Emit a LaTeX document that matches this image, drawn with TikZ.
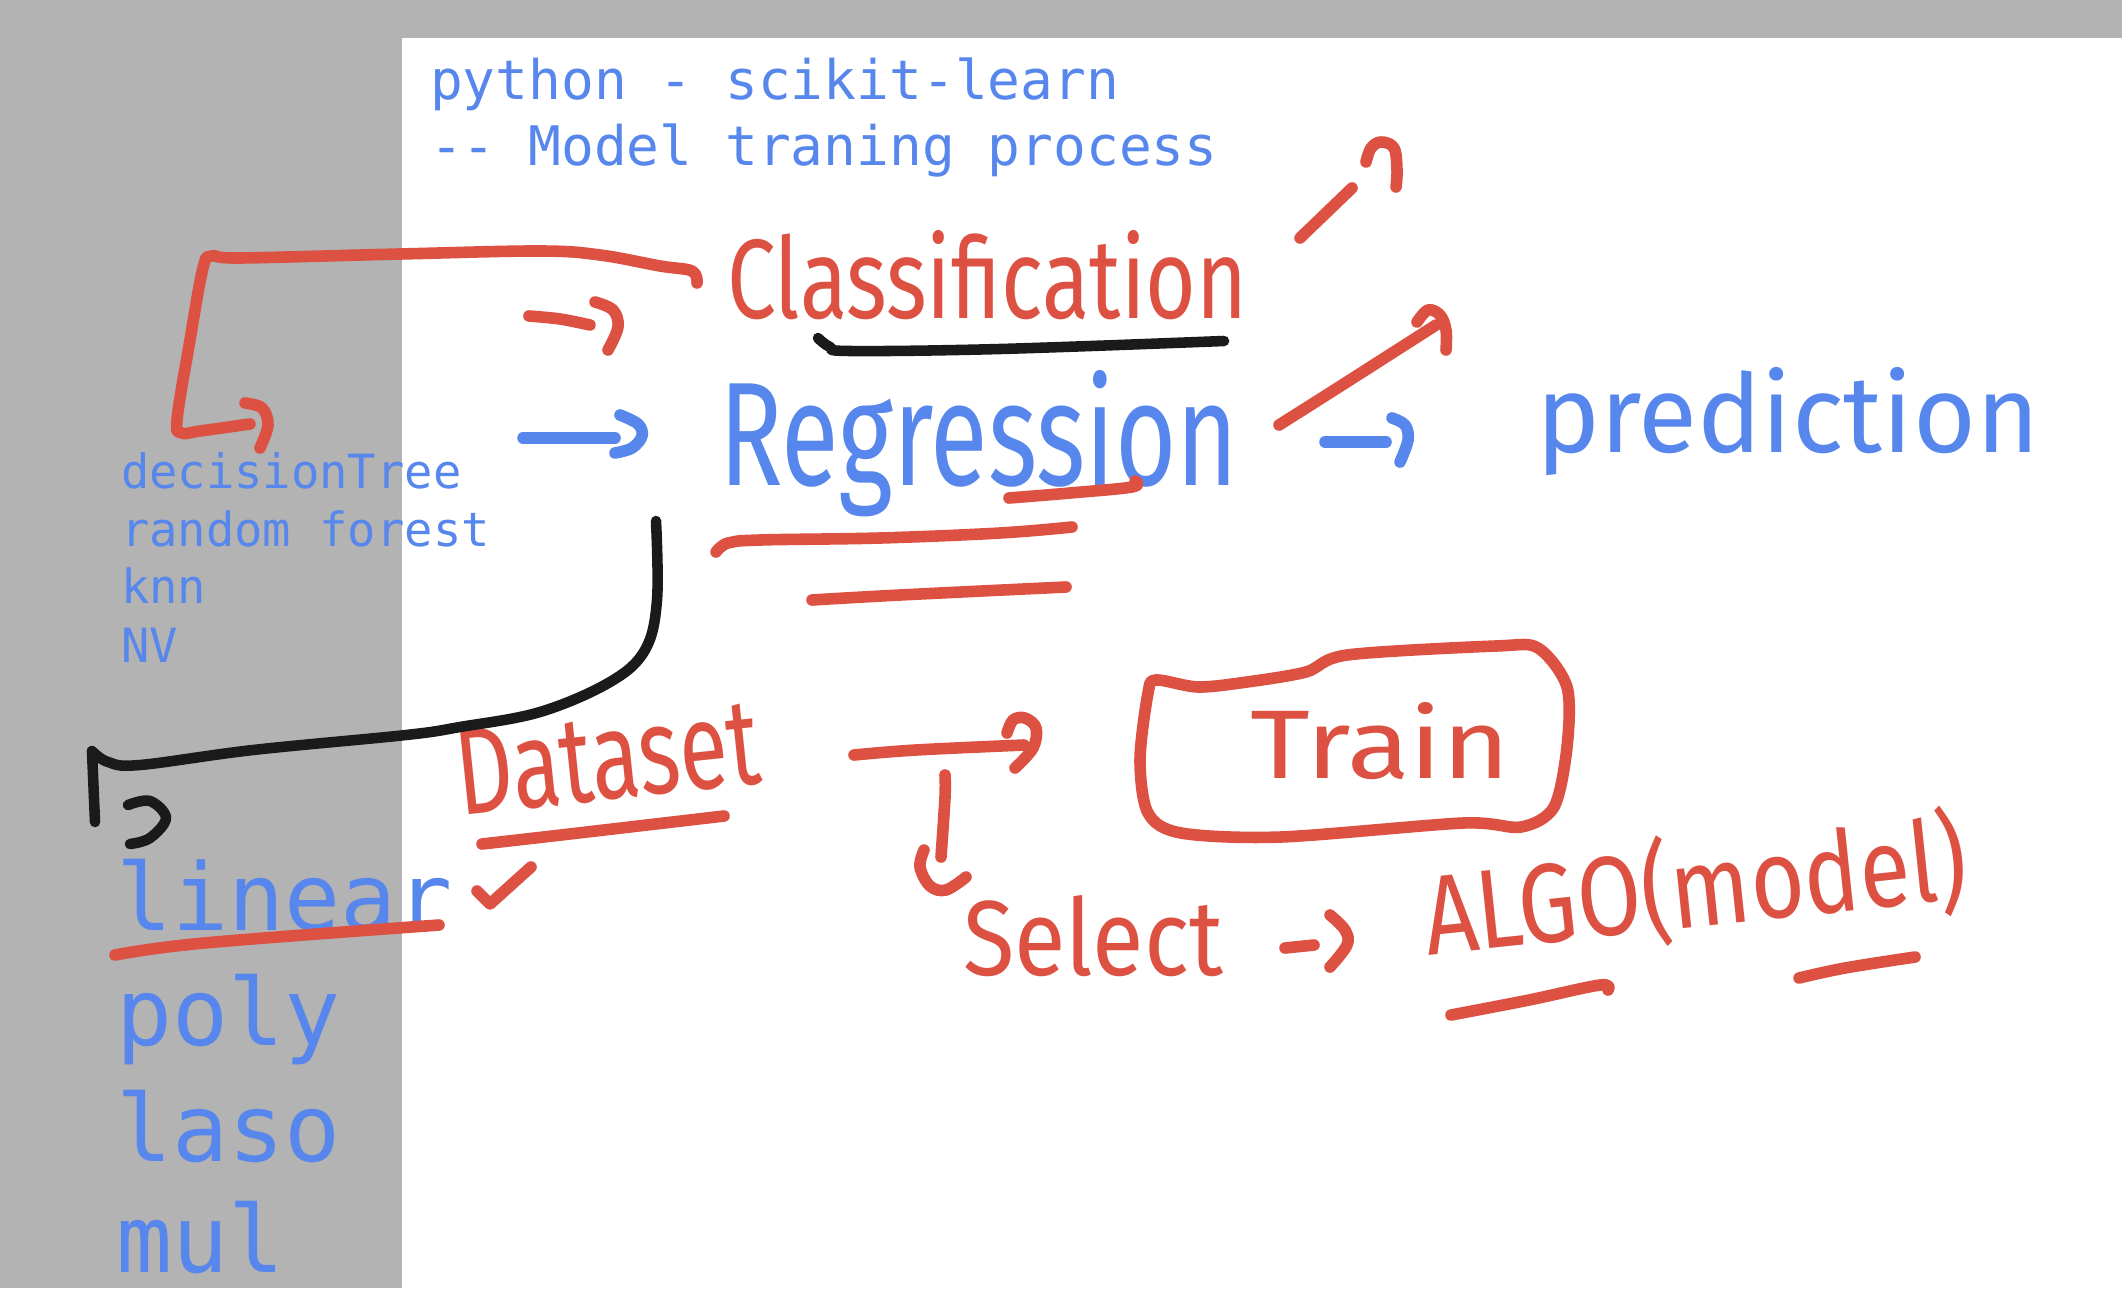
\documentclass[tikz,border=0pt]{standalone}
\usepackage{fontspec}
\usepackage{graphicx}
\newfontfamily\mono{DejaVu Sans Mono}
\newfontfamily\hand{Fira Sans}
\definecolor{pgray}{HTML}{B3B3B3}
\definecolor{pred}{HTML}{DD5143}
\definecolor{pblue}{HTML}{5787EC}
\definecolor{pblack}{HTML}{1A1A1A}
\newcommand{\hw}[3]{\resizebox{#1cm}{#2cm}{\hand #3}}
\begin{document}
\begin{tikzpicture}[x=0.01cm,y=-0.01cm,
  redpen/.style={draw=pred,line width=3.3pt,line cap=round,line join=round},
  bluepen/.style={draw=pblue,line width=3.3pt,line cap=round,line join=round},
  blackpen/.style={draw=pblack,line width=3pt,line cap=round,line join=round},
  txt/.style={anchor=base west,inner sep=0pt,outer sep=0pt},
  sm/.style={smooth,tension=0.6}]
\useasboundingbox (0,0) rectangle (2122,1288);
\fill[pgray] (0,0) rectangle (2122,1288);
\fill[white] (402,38) rectangle (2122,1288);

% typed text
\node[txt,text=pblue,font=\mono\fontsize{15.5}{18}\selectfont] (t1) at (430,100) {python - scikit-learn};
\node[txt,text=pblue,font=\mono\fontsize{15.5}{18}\selectfont] (t2) at (430,166) {-- Model traning process};
\node[txt,text=pblue,font=\mono\fontsize{13.4}{16}\selectfont] (l1) at (121,488) {decisionTree};
\node[txt,text=pblue,font=\mono\fontsize{13.4}{16}\selectfont] (l2) at (121,546) {random forest};
\node[txt,text=pblue,font=\mono\fontsize{13.4}{16}\selectfont] (l3) at (121,603) {knn};
\node[txt,text=pblue,font=\mono\fontsize{13.4}{16}\selectfont] (l4) at (121,662) {NV};
\node[txt,text=pblue,font=\mono\fontsize{26.5}{30}\selectfont] (b1) at (116,930) {linear};
\node[txt,text=pblue,font=\mono\fontsize{26.5}{30}\selectfont] (b2) at (116,1045) {poly};
\node[txt,text=pblue,font=\mono\fontsize{26.5}{30}\selectfont] (b3) at (116,1161) {laso};
\node[txt,text=pblue,font=\mono\fontsize{26.5}{30}\selectfont] (b4) at (116,1272) {mul};

% handwritten words
\node[txt,text=pred] (cls) at (727,318) {\hw{5.20}{0.88}{Classification}};
\node[txt,text=pblue] (reg) at (719,485) {\hw{5.19}{1.15}{Regression}};
\node[txt,text=pblue] (pred) at (1536,452) {\hw{5.03}{0.85}{prediction}};
\node[txt,text=pred,rotate=6] (data) at (460,815) {\hw{3.05}{0.85}{Dataset}};
\node[txt,text=pred] (train) at (1250,778) {\hw{2.60}{0.76}{Train}};
\node[txt,text=pred] (sel) at (963,975) {\hw{2.60}{0.80}{Select}};
\node[txt,text=pred,rotate=6] (algo) at (1428,955) {\hw{5.45}{0.95}{ALGO(model)}};

% red bracket from Classification to the list
\draw[redpen] plot[sm] coordinates {(697,283) (692,271) (660,266) (600,255) (540,251) (400,254) (240,258) (212,256) (203,268) (190,340) (177,420) (182,433) (200,431) (250,424)};
\draw[redpen] plot[sm] coordinates {(245,403) (262,408) (268,425) (260,448)};

% small red arrow and blue arrow on the left
\draw[redpen] plot[sm] coordinates {(529,316) (560,319) (590,325)};
\draw[redpen] plot[sm] coordinates {(595,302) (613,310) (618,327) (608,350)};
\draw[bluepen] (523,438) -- (615,438);
\draw[bluepen] plot[sm] coordinates {(620,415) (638,424) (642,436) (632,448) (615,453)};

% black curve to the regression list
\draw[blackpen] plot[sm] coordinates {(656,521) (657,600) (645,650) (610,682) (540,712) (460,727) (406,735) (253,750) (140,765) (108,762) (92,751)} -- (95,822);
\draw[blackpen] plot[sm] coordinates {(128,805) (150,801) (166,818) (150,838) (130,844)};

% underline of Classification
\draw[blackpen] plot[sm] coordinates {(818,338) (830,347) (850,351) (1000,349) (1224,341)};

% underlines of Regression
\draw[redpen] plot[sm] coordinates {(1009,498) (1070,493) (1132,487) (1135,481)};
\draw[redpen] plot[sm] coordinates {(716,552) (728,543) (760,540) (880,538) (1000,533) (1072,527)};
\draw[redpen] plot[sm] coordinates {(812,600) (900,595) (1066,587)};

% arrows on the right
\draw[redpen] (1300,238) -- (1352,188);
\draw[redpen] plot[sm] coordinates {(1366,162) (1371,148) (1381,142) (1394,148) (1397,170) (1396,187)};
\draw[redpen] plot[sm] coordinates {(1279,425) (1339,387) (1436,325)};
\draw[redpen] plot[sm] coordinates {(1417,322) (1428,310) (1440,315) (1446,330) (1446,350)};
\draw[bluepen] (1325,442) -- (1386,442);
\draw[bluepen] plot[sm] coordinates {(1392,418) (1405,425) (1408,440) (1400,462)};

% Dataset -> Train
\draw[redpen] plot[sm] coordinates {(854,755) (916,750) (1024,745)};
\draw[redpen] plot[sm] coordinates {(1007,733) (1013,720) (1025,718) (1036,728) (1033,748) (1015,768)};

% Train box
\draw[redpen] plot[smooth cycle,tension=0.5] coordinates {(1156,680) (1198,687) (1247,682) (1306,672) (1347,655) (1496,646) (1538,648) (1567,687) (1567,747) (1554,807) (1521,827) (1463,823) (1281,837) (1181,833) (1148,813) (1140,760) (1148,693)};

% Select pointer
\draw[redpen] plot[sm] coordinates {(945,775) (945,797) (941,857)};
\draw[redpen] plot[sm] coordinates {(924,850) (920,867) (930,886) (946,890) (966,877)};
% "->" between Select and ALGO
\draw[redpen] (1285,948) -- (1314,945);
\draw[redpen] plot[sm] coordinates {(1330,915) (1345,930) (1347,945) (1330,967)};

% Dataset underline and check
\draw[redpen] plot[sm] coordinates {(482,844) (561,835) (724,816)};
\draw[redpen] (477,891) -- (490,904) -- (531,867);
% linear underline
\draw[redpen] plot[sm] coordinates {(115,955) (204,943) (439,925)};
% ALGO underlines
\draw[redpen] plot[sm] coordinates {(1451,1015) (1529,1000) (1600,985) (1608,990)};
\draw[redpen] plot[sm] coordinates {(1799,978) (1845,968) (1915,957)};
\end{tikzpicture}
\end{document}
